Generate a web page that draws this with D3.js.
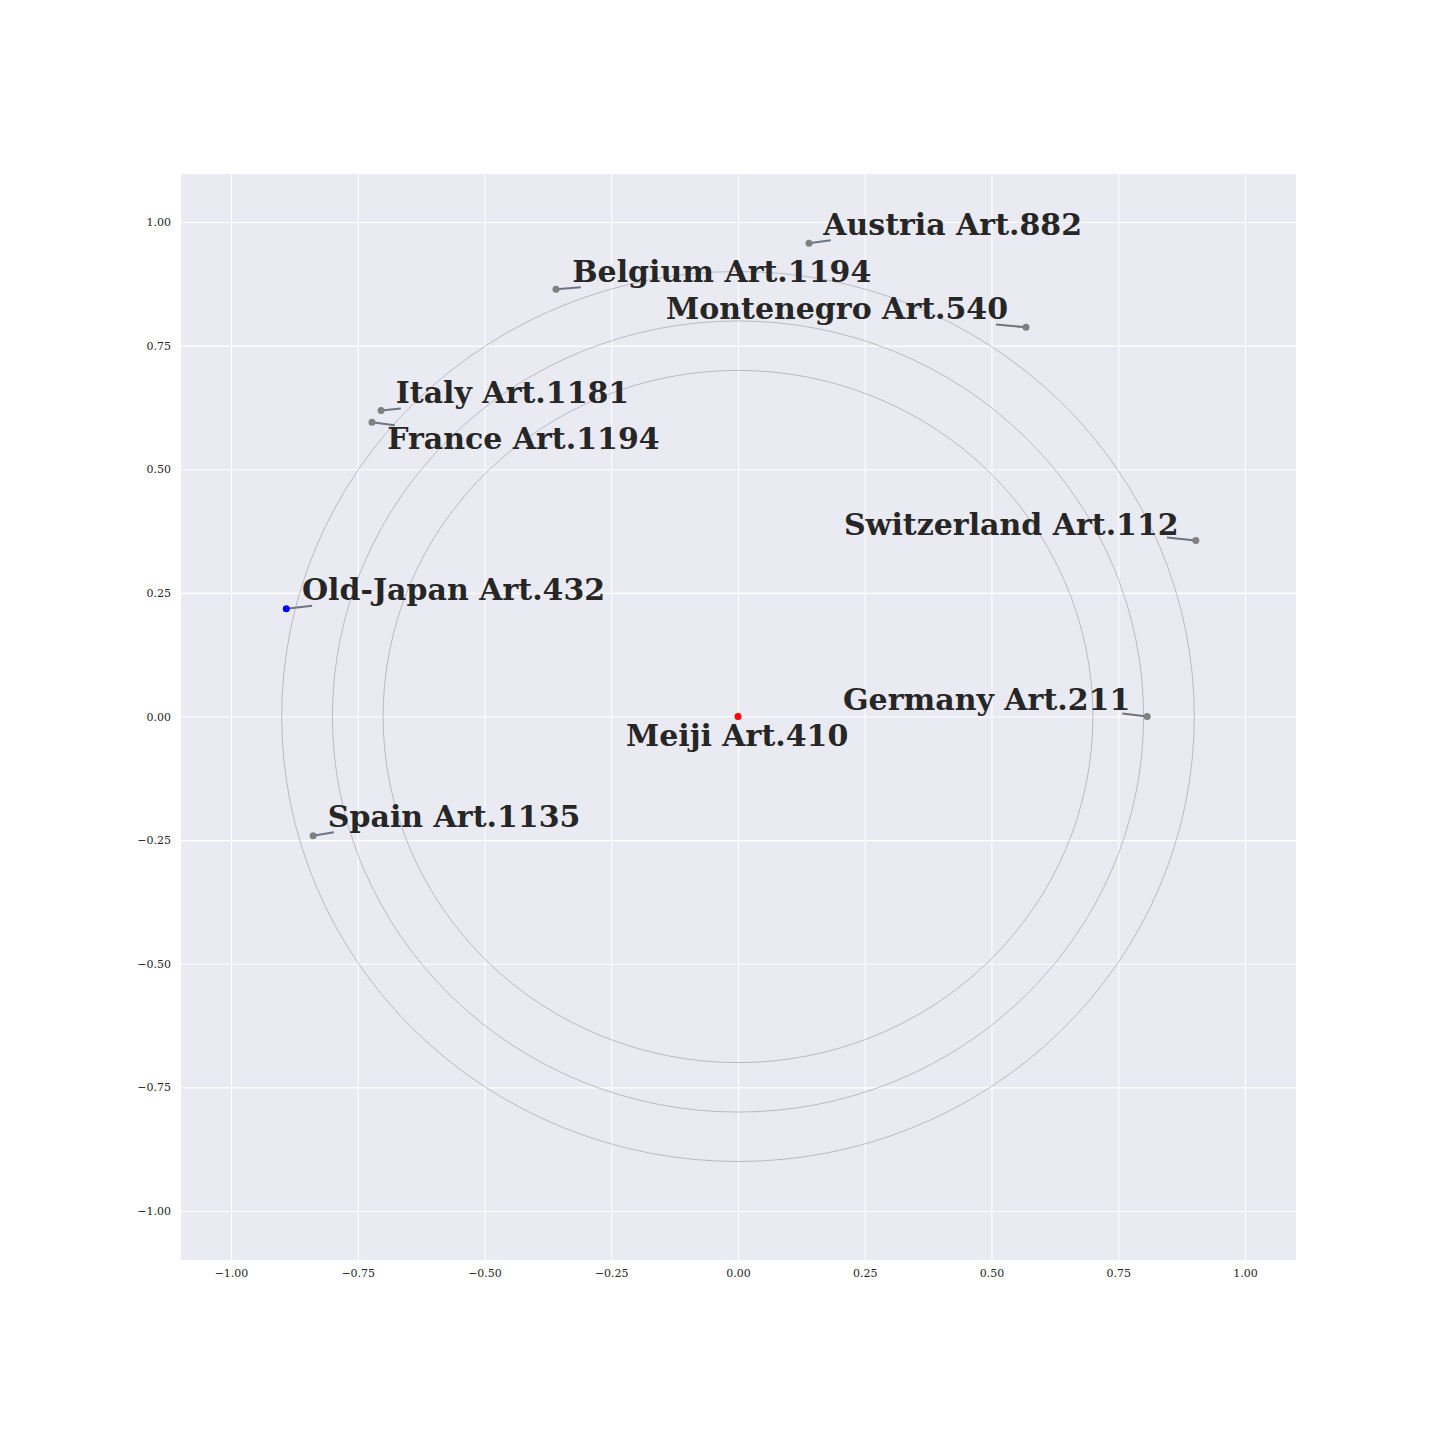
<!DOCTYPE html>
<html><head><meta charset="utf-8">
<script src="https://cdn.jsdelivr.net/npm/d3@7"></script>
<style>body{margin:0;background:#fff}svg{display:block}</style>
</head><body>
<script>
const names = ["Meiji Art.410","Old-Japan Art.432","Austria Art.882","Belgium Art.1194","Montenegro Art.540","Italy Art.1181","France Art.1194","Switzerland Art.112","Germany Art.211","Spain Art.1135"];
const xs = [0, -0.891, 0.140, -0.359, 0.568, -0.704, -0.722, 0.903, 0.807, -0.838];
const ys = [0, 0.218, 0.957, 0.864, 0.787, 0.619, 0.595, 0.356, 0.0, -0.241];
const colors = ["red","blue","grey","grey","grey","grey","grey","grey","grey","grey"];
const labelX = [-0.221, -0.860, 0.168, -0.327, -0.142, -0.675, -0.692, 0.209, 0.207, -0.809];
const labelY = [-0.059, 0.235, 0.973, 0.878, 0.803, 0.635, 0.540, 0.368, 0.014, -0.224];
const arrowX = [null, -0.840, 0.183, -0.310, 0.509, -0.665, -0.677, 0.846, 0.758, -0.797];
const arrowY = [null, 0.224, 0.963, 0.868, 0.793, 0.623, 0.589, 0.362, 0.006, -0.234];
const radii = [0.7, 0.8, 0.9];
const ticks = [-1.0, -0.75, -0.5, -0.25, 0, 0.25, 0.5, 0.75, 1.0];

const W = 1440, H = 1440;
const svg = d3.select("body").append("svg").attr("width", W).attr("height", H);
const x = d3.scaleLinear().domain([-1.1, 1.1]).range([180.3, 1295.7]);
const y = d3.scaleLinear().domain([-1.1, 1.1]).range([1260.4, 172.6]);

svg.append("rect").attr("x", 181).attr("y", 174).attr("width", 1115).attr("height", 1086).attr("fill", "#EAEAF2");

const fmt = d => d3.format(".2f")(d).replace("-", "\u2212");
const gx = svg.append("g").attr("transform", "translate(0,1260)")
  .call(d3.axisBottom(x).tickValues(ticks).tickSize(-1086).tickPadding(9).tickFormat(fmt));
const gy = svg.append("g").attr("transform", "translate(181,0)")
  .call(d3.axisLeft(y).tickValues(ticks).tickSize(-1115).tickPadding(10).tickFormat(fmt));
[gx, gy].forEach(g => {
  g.select(".domain").remove();
  g.selectAll(".tick line").attr("stroke", "#fff").attr("stroke-width", 1.1);
  g.selectAll(".tick text").attr("fill", "#262626").style("font-family", "'DejaVu Serif'").style("font-size", "11px");
});

const plot = svg.append("g");
plot.selectAll("ellipse.ring").data(radii).join("ellipse").attr("class", "ring")
  .attr("cx", x(0)).attr("cy", y(0))
  .attr("rx", d => x(d) - x(0)).attr("ry", d => y(0) - y(d))
  .attr("fill", "none").attr("stroke", "#8a8a8a").attr("stroke-width", 0.5);

const idx = d3.range(names.length);
plot.selectAll("line.arrow").data(idx.filter(i => arrowX[i] !== null)).join("line").attr("class", "arrow")
  .attr("x1", i => x(xs[i])).attr("y1", i => y(ys[i]))
  .attr("x2", i => x(arrowX[i])).attr("y2", i => y(arrowY[i]))
  .attr("stroke", "#6f7480").attr("stroke-width", 2);
plot.selectAll("circle.pt").data(idx).join("circle").attr("class", "pt")
  .attr("cx", i => x(xs[i])).attr("cy", i => y(ys[i])).attr("r", 3.5)
  .attr("fill", i => colors[i]);
plot.selectAll("text.lbl").data(idx).join("text").attr("class", "lbl")
  .attr("x", i => x(labelX[i])).attr("y", i => y(labelY[i]))
  .attr("fill", "#262626").style("font-family", "'DejaVu Serif'").style("font-weight", "bold").style("font-size", "30px")
  .text(i => names[i]);
</script>
</body></html>
